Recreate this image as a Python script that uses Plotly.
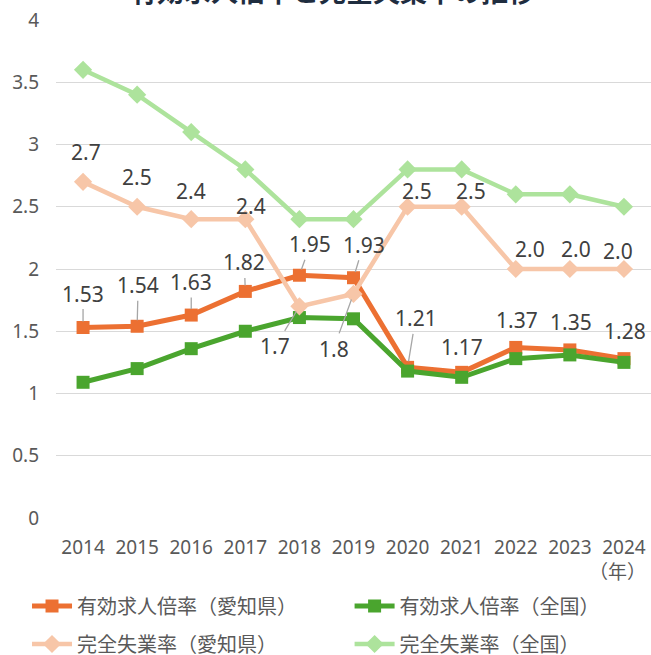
import plotly.graph_objects as go

# ---- data ----
years = ["2014", "2015", "2016", "2017", "2018", "2019", "2020", "2021", "2022", "2023", "2024"]
aichi_jobs = [1.53, 1.54, 1.63, 1.82, 1.95, 1.93, 1.21, 1.17, 1.37, 1.35, 1.28]
national_jobs = [1.09, 1.20, 1.36, 1.50, 1.61, 1.60, 1.18, 1.13, 1.28, 1.31, 1.25]
aichi_unemp = [2.7, 2.5, 2.4, 2.4, 1.7, 1.8, 2.5, 2.5, 2.0, 2.0, 2.0]
national_unemp = [3.6, 3.4, 3.1, 2.8, 2.4, 2.4, 2.8, 2.8, 2.6, 2.6, 2.5]
y_tick_vals = [0, 0.5, 1, 1.5, 2, 2.5, 3, 3.5, 4]
y_tick_text = ["0", "0.5", "1", "1.5", "2", "2.5", "3", "3.5", "4"]
series_names = ["有効求人倍率（愛知県）", "有効求人倍率（全国）", "完全失業率（愛知県）", "完全失業率（全国）"]
title_text = "有効求人倍率と完全失業率の推移"
year_unit = "（年）"

# ---- styles ----
FONT = "Noto Sans, Noto Sans CJK JP, sans-serif"
C_AJ = "#EC7032"
C_NJ = "#4AA52E"
C_AU = "#F7C6A8"
C_NU = "#ADE39C"
LABEL_COLOR = "#404040"
TICK_COLOR = "#595959"
LEADER = "#A6A6A6"

# label offsets (ax, ay, leader line shown)
jobs_off = [(0, -34, True), (1, -41, True), (0, -33, True), (-1, -29, True), (11, -31, True),
            (10, -33, True), (8, -49, True), (0, -25, False), (1, -27, False), (1, -28, False), (1, -28, False)]
unemp_off = [(3, -30, False), (0, -30, False), (0, -28, False), (6, -13, False), (-24, 40, True),
             (-20, 55, True), (9, -16, False), (9, -16, False), (14, -20, False), (6, -20, False), (-6, -18, False)]

fig = go.Figure()
specs = [
    (aichi_jobs, C_AJ, "square", 13, 5, "legend"),
    (national_jobs, C_NJ, "square", 13, 5, "legend2"),
    (aichi_unemp, C_AU, "diamond", 14, 4.5, "legend3"),
    (national_unemp, C_NU, "diamond", 14, 4.5, "legend4"),
]
for name, (vals, col, sym, msize, lw, leg) in zip(series_names, specs):
    fig.add_trace(go.Scatter(x=years, y=vals, name=name, mode="lines+markers",
                             line=dict(color=col, width=lw),
                             marker=dict(symbol=sym, size=msize, color=col),
                             legend=leg))

annotations = []
for i, (v, (ax, ay, lead)) in enumerate(zip(aichi_jobs, jobs_off)):
    annotations.append(dict(x=i, y=v, xref="x", yref="y", text=f"{v:.2f}", showarrow=True,
                            ax=ax, ay=ay, arrowhead=0, arrowwidth=1.3, standoff=6,
                            arrowcolor=LEADER if lead else "rgba(0,0,0,0)",
                            font=dict(family=FONT, size=21, color=LABEL_COLOR)))
for i, (v, (ax, ay, lead)) in enumerate(zip(aichi_unemp, unemp_off)):
    annotations.append(dict(x=i, y=v, xref="x", yref="y", text=f"{v:.1f}", showarrow=True,
                            ax=ax, ay=ay, arrowhead=0, arrowwidth=1.3, standoff=6,
                            arrowcolor=LEADER if lead else "rgba(0,0,0,0)",
                            font=dict(family=FONT, size=21, color=LABEL_COLOR)))

annotations.append(dict(x=0.995, y=-0.108, xref="paper", yref="paper", text=year_unit, showarrow=False,
                        xanchor="right", yanchor="middle",
                        font=dict(family=FONT, size=19, color=TICK_COLOR)))
annotations.append(dict(x=0.465, y=1.016, xref="paper", yref="paper", text=f"<b>{title_text}</b>",
                        showarrow=False, xanchor="center", yanchor="bottom",
                        font=dict(family="Noto Sans CJK JP", size=27, color="#1F2D3F")))

leg_common = dict(orientation="h", xref="container", yref="container", xanchor="left", yanchor="middle",
                  font=dict(family=FONT, size=20, color=TICK_COLOR), bgcolor="rgba(0,0,0,0)",
                  itemwidth=40)
fig.update_layout(
    width=651, height=655,
    margin=dict(l=56, r=0, t=20, b=137, autoexpand=False),
    paper_bgcolor="white", plot_bgcolor="white",
    font=dict(family=FONT, size=19, color=TICK_COLOR),
    annotations=annotations,
    legend=dict(leg_common, x=0.0415, y=0.0748),
    legend2=dict(leg_common, x=0.537, y=0.0748),
    legend3=dict(leg_common, x=0.0415, y=0.0168),
    legend4=dict(leg_common, x=0.537, y=0.0168),
    showlegend=True,
)
fig.update_xaxes(type="category", range=[-0.5, 10.5], showgrid=False, showline=False, zeroline=False,
                 ticks="", ticklabelstandoff=16, automargin=False, ticklabeloverflow="allow",
                 tickfont=dict(family=FONT, size=19, color=TICK_COLOR))
fig.update_yaxes(range=[0, 4], tickvals=y_tick_vals, ticktext=y_tick_text, showgrid=True,
                 gridcolor="#D9D9D9", gridwidth=1.3, zeroline=False, showline=False, ticks="",
                 ticklabelstandoff=16, automargin=False, ticklabeloverflow="allow",
                 tickfont=dict(family=FONT, size=19, color=TICK_COLOR))

fig.write_html("out.html", config={"displayModeBar": False},
               post_script="document.body.style.margin='0';")
